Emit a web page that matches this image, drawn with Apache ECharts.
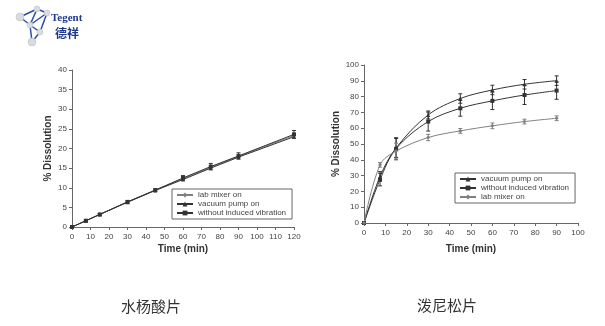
<!DOCTYPE html>
<html>
<head>
<meta charset="utf-8">
<script src="https://cdn.jsdelivr.net/npm/echarts@6/dist/echarts.min.js"></script>
<style>
html,body{margin:0;padding:0;background:#fff;}
#c{width:605px;height:326px;}
</style>
</head>
<body>
<div id="c"></div>
<script>
// ---- Left chart (水杨酸片) ----
var leftTimes = [0, 7.5, 15, 30, 45, 60, 75, 90, 120];
var leftLabMixer = [0, 1.6, 3.2, 6.4, 9.4, 12.3, 15.2, 18.0, 23.3];
var leftVacuum = [0, 1.6, 3.2, 6.3, 9.3, 12.1, 15.0, 17.8, 23.0];
var leftWithout = [0, 1.6, 3.2, 6.4, 9.4, 12.5, 15.4, 18.1, 23.6];
var leftErr = [0, 0.2, 0.2, 0.3, 0.3, 0.6, 0.8, 0.8, 1.0];

// ---- Right chart (泼尼松片) ----
var rightTimes = [0, 7.5, 15, 30, 45, 60, 75, 90];
var rightVacuum = [0, 29.5, 47.5, 68.4, 78.8, 84.2, 87.8, 90.1];
var rightWithout = [0, 27.5, 47.0, 64.2, 72.6, 77.3, 81.0, 83.8];
var rightLabMixer = [0, 36.8, 45.5, 54.1, 58.3, 61.5, 64.2, 66.3];
var rightVacuumErr = [0, 3, 6, 2.5, 3, 3, 3, 3];
var rightWithoutErr = [0, 4, 7, 6, 5, 5.5, 6, 5.5];
var rightLabMixerErr = [0, 1.5, 5, 2, 1.5, 1.8, 1.5, 1.5];

var leftXTicks = [0, 120, 10];
var leftYTicks = [0, 40, 5];
var rightXTicks = [0, 100, 10];
var rightYTicks = [0, 100, 10];

var nameLab = 'lab mixer on', nameVac = 'vacuum pump on', nameWo = 'without induced vibration';
var captions = ['水杨酸片', '泼尼松片'];

function pairs(xs, ys) { return xs.map(function (x, i) { return [x, ys[i]]; }); }
function errData(xs, ys, es) { return xs.map(function (x, i) { return [x, ys[i] - es[i], ys[i] + es[i]]; }); }

var dark = '#333', light = '#808080', txt = '#444';

function errSeries(data, xi, color) {
  return {
    type: 'custom', xAxisIndex: xi, yAxisIndex: xi, silent: true, z: 3,
    renderItem: function (params, api) {
      var lo = api.coord([api.value(0), api.value(1)]);
      var hi = api.coord([api.value(0), api.value(2)]);
      var st = { stroke: color, lineWidth: 1 };
      return { type: 'group', children: [
        { type: 'line', shape: { x1: lo[0], y1: lo[1], x2: hi[0], y2: hi[1] }, style: st },
        { type: 'line', shape: { x1: lo[0] - 2, y1: lo[1], x2: lo[0] + 2, y2: lo[1] }, style: st },
        { type: 'line', shape: { x1: hi[0] - 2, y1: hi[1], x2: hi[0] + 2, y2: hi[1] }, style: st }
      ] };
    },
    data: data
  };
}

function lineSeries(name, data, xi, color, symbol, size, smooth) {
  return {
    name: name, type: 'line', xAxisIndex: xi, yAxisIndex: xi, data: data,
    symbol: symbol, symbolSize: size, smooth: smooth, z: 4,
    lineStyle: { color: color, width: 1 }, itemStyle: { color: color }
  };
}

function xAxis(gi, t) {
  return {
    type: 'value', gridIndex: gi, min: t[0], max: t[1], interval: t[2],
    name: 'Time (min)', nameLocation: 'middle', nameGap: gi === 0 ? 17 : 21,
    nameTextStyle: { fontSize: 10, fontWeight: 'bold', color: '#333', fontFamily: 'Liberation Sans' },
    axisLine: { lineStyle: { color: '#666' } },
    axisTick: { length: 3, lineStyle: { color: '#666' } },
    axisLabel: { fontSize: 8, color: txt, margin: 6, fontFamily: 'Liberation Sans' },
    splitLine: { show: false }
  };
}
function yAxis(gi, t) {
  return {
    type: 'value', gridIndex: gi, min: t[0], max: t[1], interval: t[2],
    name: '% Dissolution', nameLocation: 'middle', nameGap: gi === 0 ? 19 : 23,
    nameTextStyle: { fontSize: 10, fontWeight: 'bold', color: '#333', fontFamily: 'Liberation Sans' },
    axisLine: { show: true, lineStyle: { color: '#666' } },
    axisTick: { show: true, length: 3, lineStyle: { color: '#666' } },
    axisLabel: { fontSize: 8, color: txt, margin: 5, fontFamily: 'Liberation Sans' },
    splitLine: { show: false }
  };
}

function legend(left, top, names) {
  return {
    left: left, top: top, orient: 'vertical', data: names,
    borderColor: '#666', borderWidth: 1, padding: [2, 6, 2, 4],
    itemGap: 1, itemWidth: 16, itemHeight: 6,
    textStyle: { fontSize: 8, color: txt, fontFamily: 'Liberation Sans' },
    selectedMode: false
  };
}

var blue = '#2b4fa8';
var nodes = [[20, 17], [37, 9], [47, 13], [30, 25], [40, 32], [32, 42]];
var links = [[0, 1], [1, 2], [0, 3], [1, 3], [2, 3], [2, 4], [3, 5], [4, 5], [3, 4]];
var logo = [];
links.forEach(function (l) {
  logo.push({ type: 'line', shape: { x1: nodes[l[0]][0], y1: nodes[l[0]][1], x2: nodes[l[1]][0], y2: nodes[l[1]][1] }, style: { stroke: blue, lineWidth: 1.5 } });
});
nodes.forEach(function (n, i) {
  logo.push({ type: 'circle', shape: { cx: n[0], cy: n[1], r: i === 0 || i === 5 ? 4 : 3 }, style: { fill: '#d8dbe0', stroke: '#b8bcc4', lineWidth: 0.5 } });
});
logo.push({ type: 'text', left: 51, top: 13, style: { text: 'Tegent', fill: '#1f3a8a', font: 'bold 11px "Liberation Serif"' } });
logo.push({ type: 'text', left: 55, top: 27, style: { text: '德祥', fill: '#1f3a8a', font: 'bold 12px "Noto Sans CJK SC"' } });
logo.push({ type: 'text', left: 150, top: 306, style: { text: captions[0], fill: '#333', font: '15px "Noto Sans CJK SC"', textAlign: 'center', textVerticalAlign: 'middle' } });
logo.push({ type: 'text', left: 447, top: 305, style: { text: captions[1], fill: '#333', font: '15px "Noto Sans CJK SC"', textAlign: 'center', textVerticalAlign: 'middle' } });
// reposition captions via x/y
logo[logo.length - 2] = { type: 'text', x: 151, y: 306, style: { text: captions[0], fill: '#333', font: '15px "Noto Sans CJK SC"', textAlign: 'center', textVerticalAlign: 'middle' } };
logo[logo.length - 1] = { type: 'text', x: 447, y: 305, style: { text: captions[1], fill: '#333', font: '15px "Noto Sans CJK SC"', textAlign: 'center', textVerticalAlign: 'middle' } };

var chart = echarts.init(document.getElementById('c'), null, { renderer: 'canvas' });
chart.setOption({
  animation: false,
  backgroundColor: '#fff',
  grid: [
    { left: 72, right: 311, top: 70, bottom: 99 },
    { left: 364, right: 27, top: 65, bottom: 103 }
  ],
  xAxis: [xAxis(0, leftXTicks), xAxis(1, rightXTicks)],
  yAxis: [yAxis(0, leftYTicks), yAxis(1, rightYTicks)],
  legend: [
    legend(172, 189, [nameLab, nameVac, nameWo]),
    legend(455, 173, [nameVac, nameWo, nameLab])
  ],
  graphic: logo,
  series: [
    lineSeries(nameLab, pairs(leftTimes, leftLabMixer), 0, light, 'diamond', 4, false),
    lineSeries(nameVac, pairs(leftTimes, leftVacuum), 0, dark, 'triangle', 4, false),
    lineSeries(nameWo, pairs(leftTimes, leftWithout), 0, dark, 'rect', 4, false),
    errSeries(errData(leftTimes, leftWithout, leftErr), 0, dark),
    lineSeries(nameVac, pairs(rightTimes, rightVacuum), 1, dark, 'triangle', 4, 0.35),
    lineSeries(nameWo, pairs(rightTimes, rightWithout), 1, dark, 'rect', 4, 0.35),
    lineSeries(nameLab, pairs(rightTimes, rightLabMixer), 1, light, 'diamond', 4, 0.35),
    errSeries(errData(rightTimes, rightVacuum, rightVacuumErr), 1, dark),
    errSeries(errData(rightTimes, rightWithout, rightWithoutErr), 1, dark),
    errSeries(errData(rightTimes, rightLabMixer, rightLabMixerErr), 1, light)
  ]
});
</script>
</body>
</html>
